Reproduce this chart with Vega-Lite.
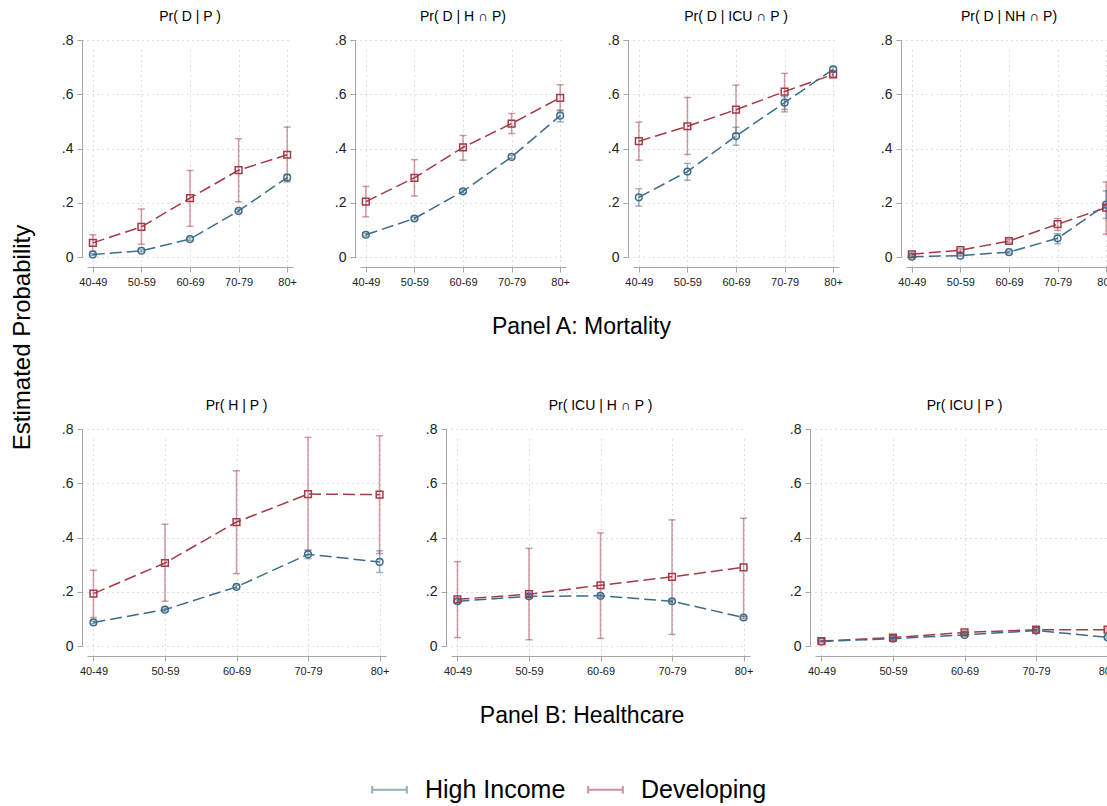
{
  "$schema": "https://vega.github.io/schema/vega-lite/v6.json",
  "padding": {"left": 11, "top": 10, "right": 0, "bottom": 90},
  "background": "white",
  "title": {"text": "Estimated Probability", "orient": "left", "anchor": "middle", "fontSize": 24, "fontWeight": "normal", "font": "Liberation Sans", "color": "#000", "offset": 26, "dx": 69},
  "data": {
    "values": [
      {"row": "A", "panel": "Pr( D | P )", "group": "Developing", "age": "40-49", "p": 0.052, "lo": 0.022, "hi": 0.082},
      {"row": "A", "panel": "Pr( D | P )", "group": "Developing", "age": "50-59", "p": 0.111, "lo": 0.047, "hi": 0.177},
      {"row": "A", "panel": "Pr( D | P )", "group": "Developing", "age": "60-69", "p": 0.217, "lo": 0.113, "hi": 0.319},
      {"row": "A", "panel": "Pr( D | P )", "group": "Developing", "age": "70-79", "p": 0.32, "lo": 0.203, "hi": 0.436},
      {"row": "A", "panel": "Pr( D | P )", "group": "Developing", "age": "80+", "p": 0.377, "lo": 0.277, "hi": 0.479},
      {"row": "A", "panel": "Pr( D | P )", "group": "High Income", "age": "40-49", "p": 0.009, "lo": 0.006, "hi": 0.012},
      {"row": "A", "panel": "Pr( D | P )", "group": "High Income", "age": "50-59", "p": 0.023, "lo": 0.019, "hi": 0.027},
      {"row": "A", "panel": "Pr( D | P )", "group": "High Income", "age": "60-69", "p": 0.066, "lo": 0.061, "hi": 0.071},
      {"row": "A", "panel": "Pr( D | P )", "group": "High Income", "age": "70-79", "p": 0.17, "lo": 0.164, "hi": 0.176},
      {"row": "A", "panel": "Pr( D | P )", "group": "High Income", "age": "80+", "p": 0.293, "lo": 0.281, "hi": 0.305},

      {"row": "A", "panel": "Pr( D | H ∩ P)", "group": "Developing", "age": "40-49", "p": 0.204, "lo": 0.148, "hi": 0.26},
      {"row": "A", "panel": "Pr( D | H ∩ P)", "group": "Developing", "age": "50-59", "p": 0.292, "lo": 0.225, "hi": 0.359},
      {"row": "A", "panel": "Pr( D | H ∩ P)", "group": "Developing", "age": "60-69", "p": 0.404, "lo": 0.357, "hi": 0.448},
      {"row": "A", "panel": "Pr( D | H ∩ P)", "group": "Developing", "age": "70-79", "p": 0.492, "lo": 0.455, "hi": 0.529},
      {"row": "A", "panel": "Pr( D | H ∩ P)", "group": "Developing", "age": "80+", "p": 0.587, "lo": 0.539, "hi": 0.635},
      {"row": "A", "panel": "Pr( D | H ∩ P)", "group": "High Income", "age": "40-49", "p": 0.082, "lo": 0.077, "hi": 0.087},
      {"row": "A", "panel": "Pr( D | H ∩ P)", "group": "High Income", "age": "50-59", "p": 0.142, "lo": 0.137, "hi": 0.147},
      {"row": "A", "panel": "Pr( D | H ∩ P)", "group": "High Income", "age": "60-69", "p": 0.242, "lo": 0.236, "hi": 0.248},
      {"row": "A", "panel": "Pr( D | H ∩ P)", "group": "High Income", "age": "70-79", "p": 0.369, "lo": 0.363, "hi": 0.375},
      {"row": "A", "panel": "Pr( D | H ∩ P)", "group": "High Income", "age": "80+", "p": 0.521, "lo": 0.498, "hi": 0.542},

      {"row": "A", "panel": "Pr( D | ICU ∩ P )", "group": "Developing", "age": "40-49", "p": 0.427, "lo": 0.357, "hi": 0.497},
      {"row": "A", "panel": "Pr( D | ICU ∩ P )", "group": "Developing", "age": "50-59", "p": 0.482, "lo": 0.378, "hi": 0.588},
      {"row": "A", "panel": "Pr( D | ICU ∩ P )", "group": "Developing", "age": "60-69", "p": 0.543, "lo": 0.455, "hi": 0.634},
      {"row": "A", "panel": "Pr( D | ICU ∩ P )", "group": "Developing", "age": "70-79", "p": 0.61, "lo": 0.544, "hi": 0.677},
      {"row": "A", "panel": "Pr( D | ICU ∩ P )", "group": "Developing", "age": "80+", "p": 0.673, "lo": 0.665, "hi": 0.683},
      {"row": "A", "panel": "Pr( D | ICU ∩ P )", "group": "High Income", "age": "40-49", "p": 0.22, "lo": 0.188, "hi": 0.252},
      {"row": "A", "panel": "Pr( D | ICU ∩ P )", "group": "High Income", "age": "50-59", "p": 0.315, "lo": 0.283, "hi": 0.345},
      {"row": "A", "panel": "Pr( D | ICU ∩ P )", "group": "High Income", "age": "60-69", "p": 0.446, "lo": 0.412, "hi": 0.478},
      {"row": "A", "panel": "Pr( D | ICU ∩ P )", "group": "High Income", "age": "70-79", "p": 0.569, "lo": 0.535, "hi": 0.591},
      {"row": "A", "panel": "Pr( D | ICU ∩ P )", "group": "High Income", "age": "80+", "p": 0.692, "lo": 0.683, "hi": 0.702},

      {"row": "A", "panel": "Pr( D | NH ∩ P)", "group": "Developing", "age": "40-49", "p": 0.01, "lo": 0.006, "hi": 0.014},
      {"row": "A", "panel": "Pr( D | NH ∩ P)", "group": "Developing", "age": "50-59", "p": 0.025, "lo": 0.02, "hi": 0.03},
      {"row": "A", "panel": "Pr( D | NH ∩ P)", "group": "Developing", "age": "60-69", "p": 0.059, "lo": 0.053, "hi": 0.065},
      {"row": "A", "panel": "Pr( D | NH ∩ P)", "group": "Developing", "age": "70-79", "p": 0.121, "lo": 0.098, "hi": 0.142},
      {"row": "A", "panel": "Pr( D | NH ∩ P)", "group": "Developing", "age": "80+", "p": 0.182, "lo": 0.084, "hi": 0.276},
      {"row": "A", "panel": "Pr( D | NH ∩ P)", "group": "High Income", "age": "40-49", "p": 0.001, "lo": 0.0, "hi": 0.003},
      {"row": "A", "panel": "Pr( D | NH ∩ P)", "group": "High Income", "age": "50-59", "p": 0.005, "lo": 0.003, "hi": 0.007},
      {"row": "A", "panel": "Pr( D | NH ∩ P)", "group": "High Income", "age": "60-69", "p": 0.018, "lo": 0.014, "hi": 0.022},
      {"row": "A", "panel": "Pr( D | NH ∩ P)", "group": "High Income", "age": "70-79", "p": 0.069, "lo": 0.049, "hi": 0.086},
      {"row": "A", "panel": "Pr( D | NH ∩ P)", "group": "High Income", "age": "80+", "p": 0.193, "lo": 0.142, "hi": 0.244},

      {"row": "B", "panel": "Pr( H | P )", "group": "Developing", "age": "40-49", "p": 0.193, "lo": 0.105, "hi": 0.279},
      {"row": "B", "panel": "Pr( H | P )", "group": "Developing", "age": "50-59", "p": 0.306, "lo": 0.165, "hi": 0.449},
      {"row": "B", "panel": "Pr( H | P )", "group": "Developing", "age": "60-69", "p": 0.457, "lo": 0.267, "hi": 0.646},
      {"row": "B", "panel": "Pr( H | P )", "group": "Developing", "age": "70-79", "p": 0.56, "lo": 0.353, "hi": 0.769},
      {"row": "B", "panel": "Pr( H | P )", "group": "Developing", "age": "80+", "p": 0.558, "lo": 0.341, "hi": 0.775},
      {"row": "B", "panel": "Pr( H | P )", "group": "High Income", "age": "40-49", "p": 0.087, "lo": 0.082, "hi": 0.092},
      {"row": "B", "panel": "Pr( H | P )", "group": "High Income", "age": "50-59", "p": 0.134, "lo": 0.128, "hi": 0.14},
      {"row": "B", "panel": "Pr( H | P )", "group": "High Income", "age": "60-69", "p": 0.218, "lo": 0.212, "hi": 0.224},
      {"row": "B", "panel": "Pr( H | P )", "group": "High Income", "age": "70-79", "p": 0.338, "lo": 0.322, "hi": 0.353},
      {"row": "B", "panel": "Pr( H | P )", "group": "High Income", "age": "80+", "p": 0.31, "lo": 0.271, "hi": 0.351},

      {"row": "B", "panel": "Pr( ICU | H ∩ P )", "group": "Developing", "age": "40-49", "p": 0.172, "lo": 0.031, "hi": 0.311},
      {"row": "B", "panel": "Pr( ICU | H ∩ P )", "group": "Developing", "age": "50-59", "p": 0.191, "lo": 0.023, "hi": 0.36},
      {"row": "B", "panel": "Pr( ICU | H ∩ P )", "group": "Developing", "age": "60-69", "p": 0.224, "lo": 0.028, "hi": 0.417},
      {"row": "B", "panel": "Pr( ICU | H ∩ P )", "group": "Developing", "age": "70-79", "p": 0.255, "lo": 0.043, "hi": 0.465},
      {"row": "B", "panel": "Pr( ICU | H ∩ P )", "group": "Developing", "age": "80+", "p": 0.29, "lo": 0.107, "hi": 0.471},
      {"row": "B", "panel": "Pr( ICU | H ∩ P )", "group": "High Income", "age": "40-49", "p": 0.165, "lo": 0.16, "hi": 0.17},
      {"row": "B", "panel": "Pr( ICU | H ∩ P )", "group": "High Income", "age": "50-59", "p": 0.183, "lo": 0.178, "hi": 0.188},
      {"row": "B", "panel": "Pr( ICU | H ∩ P )", "group": "High Income", "age": "60-69", "p": 0.185, "lo": 0.18, "hi": 0.19},
      {"row": "B", "panel": "Pr( ICU | H ∩ P )", "group": "High Income", "age": "70-79", "p": 0.165, "lo": 0.16, "hi": 0.17},
      {"row": "B", "panel": "Pr( ICU | H ∩ P )", "group": "High Income", "age": "80+", "p": 0.105, "lo": 0.1, "hi": 0.11},

      {"row": "B", "panel": "Pr( ICU | P )", "group": "Developing", "age": "40-49", "p": 0.018, "lo": 0.015, "hi": 0.021},
      {"row": "B", "panel": "Pr( ICU | P )", "group": "Developing", "age": "50-59", "p": 0.031, "lo": 0.027, "hi": 0.035},
      {"row": "B", "panel": "Pr( ICU | P )", "group": "Developing", "age": "60-69", "p": 0.05, "lo": 0.045, "hi": 0.055},
      {"row": "B", "panel": "Pr( ICU | P )", "group": "Developing", "age": "70-79", "p": 0.06, "lo": 0.056, "hi": 0.064},
      {"row": "B", "panel": "Pr( ICU | P )", "group": "Developing", "age": "80+", "p": 0.06, "lo": 0.055, "hi": 0.065},
      {"row": "B", "panel": "Pr( ICU | P )", "group": "High Income", "age": "40-49", "p": 0.017, "lo": 0.015, "hi": 0.019},
      {"row": "B", "panel": "Pr( ICU | P )", "group": "High Income", "age": "50-59", "p": 0.027, "lo": 0.024, "hi": 0.03},
      {"row": "B", "panel": "Pr( ICU | P )", "group": "High Income", "age": "60-69", "p": 0.041, "lo": 0.038, "hi": 0.044},
      {"row": "B", "panel": "Pr( ICU | P )", "group": "High Income", "age": "70-79", "p": 0.057, "lo": 0.054, "hi": 0.06},
      {"row": "B", "panel": "Pr( ICU | P )", "group": "High Income", "age": "80+", "p": 0.032, "lo": 0.028, "hi": 0.036}
    ]
  },
  "vconcat": [
    {
      "transform": [{"filter": "datum.row == 'A'"}],
      "title": {"text": "Panel A: Mortality", "orient": "bottom", "anchor": "middle", "fontSize": 23, "fontWeight": "normal", "color": "#000", "offset": 29, "dx": -7},
      "facet": {
        "column": {
          "field": "panel",
          "sort": ["Pr( D | P )", "Pr( D | H ∩ P)", "Pr( D | ICU ∩ P )", "Pr( D | NH ∩ P)"],
          "header": {"title": null, "labelFontSize": 14, "labelColor": "#000", "labelPadding": 16, "labelFont": "Liberation Sans"}
        }
      },
      "spacing": {"column": 67},
      "bounds": "flush",
      "resolve": {"axis": {"x": "independent", "y": "independent"}},
      "spec": {
        "width": 206,
        "height": 217,
        "encoding": {
          "x": {"field": "age", "type": "ordinal", "scale": {"type": "point", "padding": 0.12}, "title": null},
          "color": {
            "field": "group",
            "type": "nominal",
            "scale": {"domain": ["High Income", "Developing"], "range": ["#3d6c8a", "#a33a47"]},
            "legend": {
              "orient": "none",
              "legendX": 284,
              "legendY": 731,
              "direction": "horizontal",
              "title": null,
              "labelFontSize": 25,
              "labelColor": "#000",
              "labelOffset": 17,
              "columnPadding": 18,
              "symbolType": "M-1,0H1M-1,-0.22V0.22M1,-0.22V0.22",
              "symbolSize": 1200,
              "symbolStrokeWidth": 2,
              "symbolOpacity": 0.55,
              "symbolFillColor": "transparent"
            }
          }
        },
        "layer": [
          {"mark": {"type": "rule", "strokeWidth": 1.5, "opacity": 0.5}, "encoding": {"y": {"field": "lo", "type": "quantitative", "scale": {"domain": [0, 0.8]}, "axis": {"values": [0, 0.2, 0.4, 0.6, 0.8]}}, "y2": {"field": "hi"}}},
          {"mark": {"type": "tick", "size": 7, "thickness": 1.5, "opacity": 0.5}, "encoding": {"y": {"field": "lo", "type": "quantitative"}}},
          {"mark": {"type": "tick", "size": 7, "thickness": 1.5, "opacity": 0.5}, "encoding": {"y": {"field": "hi", "type": "quantitative"}}},
          {"mark": {"type": "line", "strokeWidth": 1.5, "strokeDash": [12, 5]}, "encoding": {"y": {"field": "p", "type": "quantitative"}}},
          {"transform": [{"filter": "datum.group == 'High Income'"}], "mark": {"type": "point", "shape": "circle", "filled": false, "size": 45, "strokeWidth": 1.5, "opacity": 1}, "encoding": {"y": {"field": "p", "type": "quantitative"}}},
          {"transform": [{"filter": "datum.group == 'Developing'"}], "mark": {"type": "point", "shape": "square", "filled": false, "size": 45, "strokeWidth": 1.5, "opacity": 1}, "encoding": {"y": {"field": "p", "type": "quantitative"}}}
        ]
      }
    },
    {
      "transform": [{"filter": "datum.row == 'B'"}],
      "title": {"text": "Panel B: Healthcare", "orient": "bottom", "anchor": "middle", "fontSize": 23, "fontWeight": "normal", "color": "#000", "offset": 29, "dx": -7},
      "facet": {
        "column": {
          "field": "panel",
          "sort": ["Pr( H | P )", "Pr( ICU | H ∩ P )", "Pr( ICU | P )"],
          "header": {"title": null, "labelFontSize": 14, "labelColor": "#000", "labelPadding": 16, "labelFont": "Liberation Sans"}
        }
      },
      "spacing": {"column": 65},
      "bounds": "flush",
      "resolve": {"axis": {"x": "independent", "y": "independent"}},
      "spec": {
        "width": 299,
        "height": 217,
        "encoding": {
          "x": {"field": "age", "type": "ordinal", "scale": {"type": "point", "padding": 0.09}, "title": null},
          "color": {
            "field": "group",
            "type": "nominal",
            "scale": {"domain": ["High Income", "Developing"], "range": ["#3d6c8a", "#a33a47"]},
            "legend": {
              "orient": "none",
              "legendX": 284,
              "legendY": 731,
              "direction": "horizontal",
              "title": null,
              "labelFontSize": 25,
              "labelColor": "#000",
              "labelOffset": 17,
              "columnPadding": 18,
              "symbolType": "M-1,0H1M-1,-0.22V0.22M1,-0.22V0.22",
              "symbolSize": 1200,
              "symbolStrokeWidth": 2,
              "symbolOpacity": 0.55,
              "symbolFillColor": "transparent"
            }
          }
        },
        "layer": [
          {"mark": {"type": "rule", "strokeWidth": 1.5, "opacity": 0.5}, "encoding": {"y": {"field": "lo", "type": "quantitative", "scale": {"domain": [0, 0.8]}, "axis": {"values": [0, 0.2, 0.4, 0.6, 0.8]}}, "y2": {"field": "hi"}}},
          {"mark": {"type": "tick", "size": 7, "thickness": 1.5, "opacity": 0.5}, "encoding": {"y": {"field": "lo", "type": "quantitative"}}},
          {"mark": {"type": "tick", "size": 7, "thickness": 1.5, "opacity": 0.5}, "encoding": {"y": {"field": "hi", "type": "quantitative"}}},
          {"mark": {"type": "line", "strokeWidth": 1.5, "strokeDash": [12, 5]}, "encoding": {"y": {"field": "p", "type": "quantitative"}}},
          {"transform": [{"filter": "datum.group == 'High Income'"}], "mark": {"type": "point", "shape": "circle", "filled": false, "size": 45, "strokeWidth": 1.5, "opacity": 1}, "encoding": {"y": {"field": "p", "type": "quantitative"}}},
          {"transform": [{"filter": "datum.group == 'Developing'"}], "mark": {"type": "point", "shape": "square", "filled": false, "size": 45, "strokeWidth": 1.5, "opacity": 1}, "encoding": {"y": {"field": "p", "type": "quantitative"}}}
        ]
      }
    }
  ],
  "spacing": 389,
  "bounds": "flush",
  "config": {
    "font": "Liberation Sans",
    "view": {"stroke": null},
    "axisY": {
      "labelExpr": "datum.value == 0 ? '0' : replace(format(datum.value, '.1f'), '0.', '.')",
      "offset": 5,
      "title": null,
      "grid": true,
      "gridDash": [1, 4],
      "gridColor": "#bdbdbd",
      "domainColor": "#a6a6a6",
      "tickColor": "#a6a6a6",
      "tickSize": 5,
      "labelFontSize": 14,
      "labelColor": "#222",
      "labelPadding": 4
    },
    "axisX": {
      "labelAngle": 0,
      "offset": 10,
      "title": null,
      "grid": true,
      "gridDash": [1, 4],
      "gridColor": "#bdbdbd",
      "domainColor": "#a6a6a6",
      "tickColor": "#a6a6a6",
      "tickSize": 5,
      "labelFontSize": 11,
      "labelColor": "#222",
      "labelPadding": 4
    }
  }
}
